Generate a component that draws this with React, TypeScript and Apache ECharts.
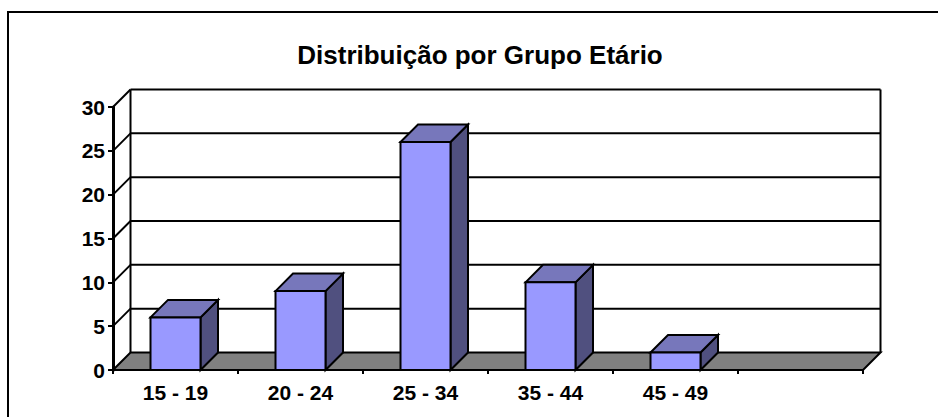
import React, { useEffect, useRef } from "react";
import * as echarts from "echarts";

const titleText = "Distribuição por Grupo Etário";
const categories = ["15 - 19", "20 - 24", "25 - 34", "35 - 44", "45 - 49", ""];
const values = [6, 9, 26, 10, 2, null];
const yTicks = [0, 5, 10, 15, 20, 25, 30];

const FONT = '"Liberation Sans", Arial, sans-serif';
const DEPTH = 17.5;
const BAR_W = 50;
const LINE = "#000";

function polyShape(points: number[][], fill: string | null, w = 2) {
  return {
    type: "polygon",
    shape: { points },
    style: { fill: fill ?? "none", stroke: LINE, lineWidth: w, lineJoin: "miter" },
  };
}
function line(x1: number, y1: number, x2: number, y2: number, w = 2) {
  return {
    type: "line",
    shape: { x1, y1, x2, y2 },
    style: { stroke: LINE, lineWidth: w, fill: "none" },
  };
}

export default function App() {
  const ref = useRef<HTMLDivElement>(null);
  useEffect(() => {
    const chart = echarts.init(ref.current!, null, { renderer: "svg" });
    const edges = (api: any) => {
      const half = api.size([1, 0])[0] / 2;
      const left = api.coord([0, 0])[0] - half;
      const right = api.coord([categories.length - 1, 0])[0] + half;
      return { left, right };
    };
    chart.setOption({
      animation: false,
      backgroundColor: "#fff",
      title: {
        text: titleText,
        left: 475,
        top: 37,
        textAlign: "center",
        textStyle: { fontFamily: FONT, fontWeight: "bold", fontSize: 26, color: "#000" },
      },
      grid: { left: 113, right: 75, top: 107, bottom: 47, containLabel: false },
      xAxis: {
        type: "category",
        data: categories,
        axisLine: { show: true, lineStyle: { color: LINE, width: 2 } },
        axisTick: { show: true, length: 4, alignWithLabel: false, lineStyle: { color: LINE, width: 2 } },
        axisLabel: { fontFamily: FONT, fontWeight: "bold", fontSize: 21, color: "#000", margin: 12, interval: 0 },
        splitLine: { show: false },
      },
      yAxis: {
        type: "value",
        min: 0,
        max: 30,
        interval: 5,
        axisLine: { show: true, lineStyle: { color: LINE, width: 3 } },
        axisTick: { show: true, length: 5, lineStyle: { color: LINE, width: 2 } },
        axisLabel: { fontFamily: FONT, fontWeight: "bold", fontSize: 21, color: "#000", margin: 8 },
        splitLine: { show: false },
      },
      graphic: [
        {
          type: "polyline",
          shape: { points: [[8, 417], [8, 12], [938, 12]] },
          style: { fill: "none", stroke: LINE, lineWidth: 2 },
          silent: true,
        },
      ],
      series: [
        {
          type: "custom",
          name: "walls",
          coordinateSystem: "cartesian2d",
          z: 1,
          silent: true,
          data: yTicks.map((v) => [0, v]),
          renderItem: (params: any, api: any) => {
            const { left, right } = edges(api);
            const y = api.coord([0, api.value(1)])[1];
            const children: any[] = [];
            if (api.value(1) === 0) {
              const top = api.coord([0, yTicks[yTicks.length - 1]])[1] - DEPTH;
              children.push(
                polyShape(
                  [
                    [left, y],
                    [left + DEPTH, y - DEPTH],
                    [right + DEPTH, y - DEPTH],
                    [right, y],
                  ],
                  "#808080"
                ),
                line(left + DEPTH, y - DEPTH, left + DEPTH, top),
                line(right + DEPTH, y - DEPTH, right + DEPTH, top)
              );
            } else {
              children.push(line(left + DEPTH, y - DEPTH, right + DEPTH, y - DEPTH));
              children.push(line(left, y, left + DEPTH, y - DEPTH));
            }
            return { type: "group", children };
          },
        },
        {
          type: "custom",
          name: "Grupo Etário",
          coordinateSystem: "cartesian2d",
          z: 2,
          silent: true,
          encode: { x: 0, y: 1 },
          data: values.map((v, i) => [i, v]),
          renderItem: (params: any, api: any) => {
            const v = api.value(1);
            if (v == null || isNaN(v)) return null;
            const [cx, yTop] = api.coord([api.value(0), v]);
            const [, y0] = api.coord([api.value(0), 0]);
            const l = cx - BAR_W / 2;
            const r = cx + BAR_W / 2;
            return {
              type: "group",
              children: [
                polyShape([[r, yTop], [r + DEPTH, yTop - DEPTH], [r + DEPTH, y0 - DEPTH], [r, y0]], "#50507F"),
                polyShape([[l, yTop], [l + DEPTH, yTop - DEPTH], [r + DEPTH, yTop - DEPTH], [r, yTop]], "#7777BB"),
                polyShape([[l, yTop], [r, yTop], [r, y0], [l, y0]], "#9999FF"),
              ],
            };
          },
        },
      ],
    });
    return () => chart.dispose();
  }, []);
  return (
    <div
      ref={ref}
      style={{ position: "absolute", left: 0, top: 0, width: 938, height: 417 }}
    />
  );
}
